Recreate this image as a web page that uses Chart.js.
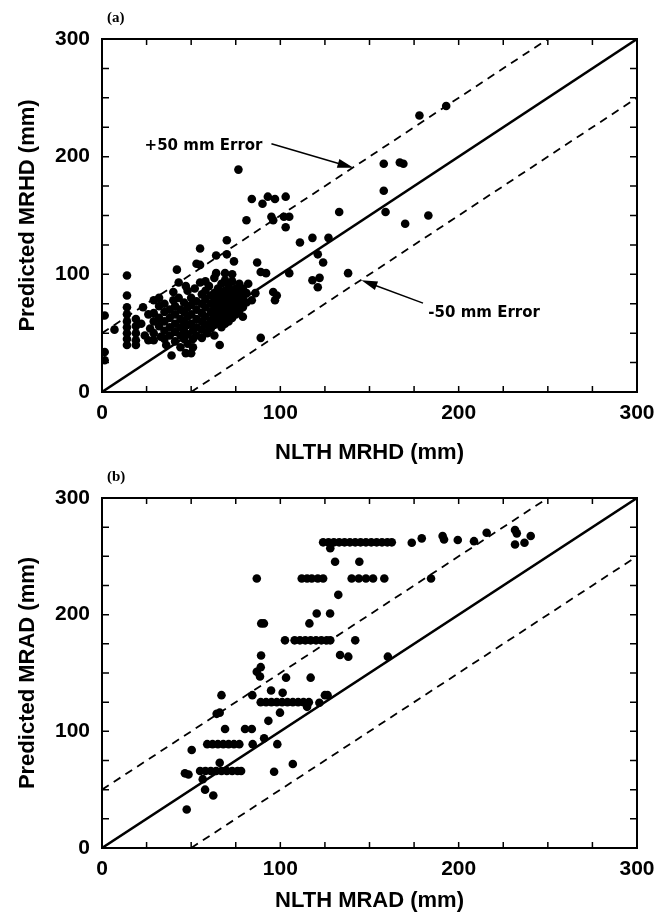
<!DOCTYPE html>
<html>
<head>
<meta charset="utf-8">
<script src="https://cdn.jsdelivr.net/npm/chart.js@4.4.1/dist/chart.umd.min.js"></script>
<style>
html,body{margin:0;padding:0;background:#fff;}
#wrap{position:relative;width:666px;height:914px;}
canvas{position:absolute;left:0;}
#chartA{top:0;}
#chartB{top:466px;}
</style>
</head>
<body>
<div id="wrap">
  <canvas id="chartA" width="666" height="466"></canvas>
  <canvas id="chartB" width="666" height="448"></canvas>
</div>
<script>
// assi comuni
const axisMin = 0, axisMax = 300, minorStep = 25, labelStep = 100;

const mrhdTitleX = "NLTH MRHD (mm)", mrhdTitleY = "Predicted MRHD (mm)";
const mradTitleX = "NLTH MRAD (mm)", mradTitleY = "Predicted MRAD (mm)";

// (a) MRHD: [NLTH, Predicted]
const mrhdPoints = [
  [1.5,65],[1.5,34],[1.5,27],[7,53],
  [14,99],[14,82],[14,72],[14,66],[14,60],[14,55],[14,50],[14,45],[14,40],
  [19,62],[19,56],[19,50],[19,44],[19,40],
  [23,72],[22,58],[24,48],[26,66],[27,54],[26,44],
  [29,78],[29,67],[29,60],[29,50],[29,44],
  [32,80],[32,73],[32,63],[32,56],[33,47],
  [35,75],[35,68],[35,60],[35,52],[35,45],[36,40],
  [38,70],[38,63],[38,55],[38,48],[39,31],
  [40,85],[40,78],[41,73],[41,66],[41,58],[41,51],[41,43],[42,104],[43,93],
  [43,80],[44,70],[44,62],[44,55],[44,48],[44,38],
  [46,76],[46,68],[46,60],[46,52],[46,45],[47,90],
  [47,33],[48,86],[48,72],[48,64],[48,57],[48,49],[48,41],
  [50,33],[50,80],[50,74],[50,66],[50,58],[51,52],[51,45],[51,38],
  [52,88],[53,77],[53,70],[53,62],[53,55],[53,48],[53,109],
  [55,122],[55,108],[55,93],[56,83],[56,75],[56,67],[56,60],[56,53],[56,46],
  [58,94],[58,86],[58,79],[58,72],[58,64],[59,57],[59,50],
  [60,90],[61,82],[61,75],[61,68],[61,61],[61,54],
  [63,97],[63,84],[63,78],[63,71],[63,64],[63,57],[63,48],
  [64,116],[64,101],[65,88],[65,80],[65,73],[65,66],[65,59],
  [66,40],[67,92],[67,84],[67,76],[67,69],[67,62],[67,55],
  [69,101],[69,95],[69,86],[69,79],[69,72],[69,65],[69,58],
  [70,129],[70,117],[71,90],[71,82],[71,75],[71,68],[71,60],
  [73,100],[73,94],[73,86],[73,78],[73,70],[73,63],
  [74,111],[75,88],[75,81],[75,73],[75,66],
  [76.5,189],[77,92],[77,84],[77,76],[77,69],
  [79,88],[79,80],[79,72],[79,64],
  [81,146],[81,84],[81,76],[82,92],
  [84,164],[84,78],[86,84],[87,110],[89,102],[89,46],[90,160],[92,101],
  [93,166],[95,149],[96,146],[97,164],[96,85],[98,82],[97,78],
  [102,149],[103,166],[103,140],[105,149],[105,101],
  [111,127],[118,131],[118,95],[122,97],[121,89],[121,117],[124,110],
  [127,131],[133,153],[138,101],
  [158,194],[158,171],[159,153],[167,195],[169,194],[170,143],[178,235],[183,150],[193,243]
];

// (b) MRAD: [NLTH, Predicted]
const mradPoints = [
  [47.5,33],[46.5,64],[48.5,63],[50.3,84],[56.5,59],[57.8,50],[62.4,45],
  [55,66],[58,66],[61,66],[64,66],[67,66],[70,66],[73,66],[76,66],[78,66],[66,73],
  [59,89],[62,89],[65,89],[68,89],[71,89],[74,89],[77,89],[84.5,89],[98.3,89],
  [69,102],[64.3,115],[66,116],[67,131],[80.2,102],[84,102],[84.3,131],[90.9,94],
  [96.5,65.4],[107,72],[93.3,109],[99.8,116],[94.8,135],[101.3,133],
  [89,125],[92,125],[95,125],[98,125],[101,125],[104,125],[107,125],[110,125],[113,125],[116,125],[115,121],
  [121.9,124.5],[125,131],[126.5,131],
  [86.8,151],[88.6,147],[89,155],[103.2,146],[117,146],[89.2,165],[89.3,192.5],[90.8,192.5],
  [116.3,192.5],[120.4,201],[127.9,201],[132.5,217],[133.5,165.4],[138.1,164],[160.3,164],
  [102.6,178],[108,178],[111,178],[114,178],[117,178],[120,178],[123,178],[126,178],[128,178],[142,178],
  [86.8,231],[112,231],[115,231],[117.6,231],[121,231],[124,231],[140,231],[144,231],[148,231],[152,231],[158.3,231],[184.5,231],
  [130.7,245.3],[144.3,245.3],
  [124,262],[127,262],[130,262],[133,262],[136,262],[139,262],[142,262],[145,262],[148,262],[151,262],[154,262],[157,262],[160,262],[162.5,262],[128,257],
  [173.7,261.6],[179.3,265.4],[191,267.4],[191.8,264.5],[199.5,264],[208.6,263],[215.7,270.2],
  [231.6,272.5],[232.6,269.7],[231.6,260.2],[236.9,261.6],[240.4,267.4]
];

// linee di riferimento
const exactLine = [[0,0],[300,300]];
const plus50Line = [[0,50],[250,300]];
const minus50Line = [[50,0],[300,250]];

// annotazioni del pannello (a), in unità dei dati
const mrhdNotes = [
  {text:"+50 mm Error", at:[90,209], align:"right", from:[95,211], to:[141,190.5]},
  {text:"-50 mm Error", at:[183,67], align:"left", from:[180,75.5], to:[145.5,95]}
];

const tickFont = {family:"'Liberation Sans', Arial, sans-serif", size:21, weight:"bold"};
const titleFont = {family:"'Liberation Sans', Arial, sans-serif", size:22, weight:"bold"};

// cornice e tacche interne su tutti i lati
const frameTicks = {
  id:"frameTicks",
  afterDatasetsDraw(chart){
    const {ctx, chartArea:a, scales:{x,y}} = chart;
    ctx.save();
    ctx.strokeStyle = "#000";
    ctx.lineWidth = 1.5;
    ctx.beginPath();
    x.ticks.forEach(t=>{
      const px = x.getPixelForValue(t.value);
      ctx.moveTo(px,a.bottom); ctx.lineTo(px,a.bottom-6);
      ctx.moveTo(px,a.top); ctx.lineTo(px,a.top+6);
    });
    y.ticks.forEach(t=>{
      const py = y.getPixelForValue(t.value);
      ctx.moveTo(a.left,py); ctx.lineTo(a.left+7,py);
      ctx.moveTo(a.right,py); ctx.lineTo(a.right-7,py);
    });
    ctx.stroke();
    ctx.lineWidth = 2;
    ctx.strokeRect(a.left,a.top,a.width,a.height);
    ctx.restore();
  }
};

function arrow(ctx,x0,y0,x1,y1){
  const ang = Math.atan2(y1-y0,x1-x0), L = 16, W = 4.5;
  const c = Math.cos(ang), s = Math.sin(ang);
  ctx.beginPath();
  ctx.moveTo(x0,y0);
  ctx.lineTo(x1-L*0.8*c, y1-L*0.8*s);
  ctx.stroke();
  ctx.beginPath();
  ctx.moveTo(x1,y1);
  ctx.lineTo(x1-L*c+W*s, y1-L*s-W*c);
  ctx.lineTo(x1-L*c-W*s, y1-L*s+W*c);
  ctx.closePath();
  ctx.fill();
}

// etichetta (a)/(b) e note con frecce
const panelNotes = {
  id:"panelNotes",
  afterDraw(chart, args, opts){
    const {ctx, chartArea:a, scales:{x,y}} = chart;
    ctx.save();
    ctx.fillStyle = "#000";
    ctx.strokeStyle = "#000";
    ctx.font = "bold 15px 'Liberation Serif', 'Times New Roman', serif";
    ctx.textAlign = "left";
    ctx.textBaseline = "middle";
    ctx.fillText(opts.label, a.left+5, a.top-21);
    ctx.font = "bold 15px 'DejaVu Sans', sans-serif";
    ctx.lineWidth = 1.5;
    (opts.notes||[]).forEach(n=>{
      ctx.textAlign = n.align;
      ctx.fillText(n.text, x.getPixelForValue(n.at[0]), y.getPixelForValue(n.at[1]));
      arrow(ctx, x.getPixelForValue(n.from[0]), y.getPixelForValue(n.from[1]),
                 x.getPixelForValue(n.to[0]), y.getPixelForValue(n.to[1]));
    });
    ctx.restore();
  }
};

const toXY = arr => arr.map(([x,y])=>({x,y}));

function refLine(pts, dash, w){
  return {data:toXY(pts), showLine:true, borderColor:"#000", borderWidth:w,
          borderDash:dash, pointRadius:0, fill:false, order:2};
}

function makeChart(id, points, titleX, titleY, padTop, xHeight, label, notes){
  return new Chart(document.getElementById(id), {
    type:"scatter",
    data:{datasets:[
      {data:toXY(points), backgroundColor:"#000", borderColor:"#000",
       pointRadius:4.3, pointBorderWidth:0, order:1},
      refLine(exactLine, [], 2.5),
      refLine(plus50Line, [8,6], 1.8),
      refLine(minus50Line, [8,6], 1.8)
    ]},
    options:{
      responsive:false,
      animation:false,
      events:[],
      layout:{padding:{left:0,right:29,top:padTop,bottom:0}},
      plugins:{
        legend:{display:false},
        tooltip:{enabled:false},
        panelNotes:{label, notes}
      },
      scales:{
        x:{
          type:"linear", min:axisMin, max:axisMax,
          grid:{display:false, drawTicks:false}, border:{display:false},
          ticks:{stepSize:minorStep, autoSkip:false, maxRotation:0, padding:9,
                 font:tickFont, color:"#000",
                 callback:v=>v%labelStep===0?v:""},
          title:{display:true, text:titleX, font:titleFont, color:"#000", padding:{top:0,bottom:0}},
          afterFit:s=>{s.height=xHeight;}
        },
        y:{
          type:"linear", min:axisMin, max:axisMax,
          grid:{display:false, drawTicks:false}, border:{display:false},
          ticks:{stepSize:minorStep, autoSkip:false, padding:12,
                 font:tickFont, color:"#000",
                 callback:v=>v%labelStep===0?v:""},
          title:{display:true, text:titleY, font:titleFont, color:"#000", padding:{top:15,bottom:0}},
          afterFit:s=>{s.width=102;}
        }
      }
    },
    plugins:[frameTicks, panelNotes]
  });
}

makeChart("chartA", mrhdPoints, mrhdTitleX, mrhdTitleY, 39, 74, "(a)", mrhdNotes);
makeChart("chartB", mradPoints, mradTitleX, mradTitleY, 32, 66, "(b)", []);
</script>
</body>
</html>
